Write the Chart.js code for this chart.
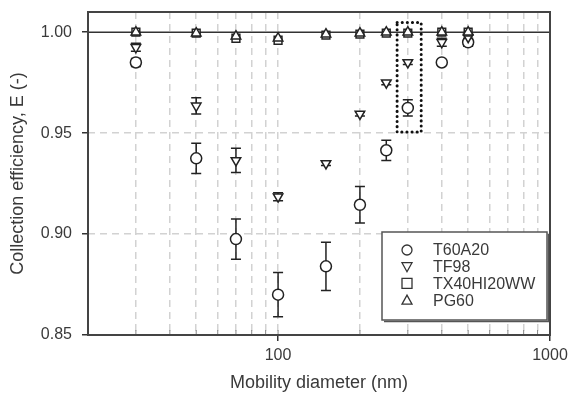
<!DOCTYPE html>
<html>
<head>
<meta charset="utf-8">
<script src="https://cdn.jsdelivr.net/npm/chart.js@4.4.1/dist/chart.umd.min.js"></script>
<style>
  html, body { margin: 0; padding: 0; background: #fff; }
  #wrap { width: 571px; height: 403px; }
</style>
</head>
<body>
<div id="wrap"><canvas id="effChart" width="571" height="403"></canvas></div>
<script>
// mobility diameters (nm)
const diameters = [30, 50, 70, 100, 150, 200, 250, 300, 400, 500];

const t60a20 = [0.985, 0.9375, 0.8975, 0.870, 0.884, 0.9145, 0.9415, 0.9625, 0.985, 0.995];
const t60a20Err = [0.002, 0.0075, 0.010, 0.011, 0.012, 0.009, 0.005, 0.004, 0.001, 0.002];
const tf98 = [0.9925, 0.9635, 0.9365, 0.9185, 0.935, 0.9595, 0.975, 0.985, 0.995, 0.9975];
const tf98Err = [0.002, 0.004, 0.006, 0.002, 0.001, 0.001, 0.001, 0.001, 0.002, 0.001];
const tx40 = [1.000, 0.9995, 0.997, 0.996, 0.9985, 0.999, 0.9995, 0.9995, 1.000, 1.000];
const pg60 = [1.000, 0.9995, 0.998, 0.997, 0.999, 0.9995, 1.000, 1.000, 1.000, 1.000];

const seriesLabels = ['T60A20', 'TF98', 'TX40HI20WW', 'PG60'];
const yTicks = [0.85, 0.90, 0.95, 1.00];
const xTicks = [20, 30, 40, 50, 60, 70, 80, 90, 100, 200, 300, 400, 500, 600, 700, 800, 900, 1000];
const xLabelled = [100, 1000];

// reference line at E = 1 and the dotted box around the 300 nm points
const refLineX = [20, 1000];
const refLineY = [1.0, 1.0];
const boxX = [274, 336, 336, 274, 274];
const boxY = [1.0048, 1.0048, 0.9505, 0.9505, 1.0048];

const ink = '#222';
const textColor = '#3a3a3a';
const fontFamily = '"Liberation Sans", Arial, sans-serif';

function pts(xs, ys) {
    return xs.map((x, i) => ({ x: x, y: ys[i] }));
}

function markerSet(label, values, style, rotation) {
    return {
        label: label,
        data: pts(diameters, values),
        showLine: false,
        pointStyle: style,
        rotation: rotation || 0,
        pointRadius: 5.5,
        pointHoverRadius: 5.5,
        borderColor: ink,
        backgroundColor: '#fff',
        pointBorderWidth: 1.5
    };
}

const errorBars = {
    id: 'errorBars',
    beforeDatasetsDraw(chart) {
        const ctx = chart.ctx;
        const xs = chart.scales.x, ys = chart.scales.y;
        const groups = [[t60a20, t60a20Err], [tf98, tf98Err]];
        ctx.save();
        ctx.strokeStyle = ink;
        ctx.lineWidth = 1.5;
        groups.forEach(([vals, errs]) => {
            vals.forEach((v, i) => {
                const px = xs.getPixelForValue(diameters[i]);
                const top = ys.getPixelForValue(v + errs[i]);
                const bot = ys.getPixelForValue(v - errs[i]);
                ctx.beginPath();
                ctx.moveTo(px, top); ctx.lineTo(px, bot);
                ctx.moveTo(px - 5, top); ctx.lineTo(px + 5, top);
                ctx.moveTo(px - 5, bot); ctx.lineTo(px + 5, bot);
                ctx.stroke();
            });
        });
        ctx.restore();
    }
};

function drawSymbol(ctx, style, x, y) {
    const r = 5;
    ctx.beginPath();
    if (style === 'circle') {
        ctx.arc(x, y, r, 0, Math.PI * 2);
    } else if (style === 'rect') {
        ctx.rect(x - r, y - r, 2 * r, 2 * r);
    } else if (style === 'down') {
        ctx.moveTo(x - r, y - r * 0.8); ctx.lineTo(x + r, y - r * 0.8); ctx.lineTo(x, y + r); ctx.closePath();
    } else {
        ctx.moveTo(x - r, y + r * 0.8); ctx.lineTo(x + r, y + r * 0.8); ctx.lineTo(x, y - r); ctx.closePath();
    }
    ctx.stroke();
}

const frameAndLegend = {
    id: 'frameAndLegend',
    afterDraw(chart) {
        const ctx = chart.ctx;
        const a = chart.chartArea;
        const xs = chart.scales.x;
        ctx.save();
        // minor ticks pointing inwards
        ctx.strokeStyle = '#888';
        ctx.lineWidth = 1;
        xTicks.forEach(t => {
            const px = xs.getPixelForValue(t);
            ctx.beginPath();
            ctx.moveTo(px, a.bottom); ctx.lineTo(px, a.bottom - 5);
            ctx.stroke();
        });
        // frame
        ctx.strokeStyle = '#444';
        ctx.lineWidth = 2;
        ctx.strokeRect(a.left, a.top, a.right - a.left, a.bottom - a.top);

        // legend box
        const bx = 382, by = 232, bw = 165, bh = 88;
        ctx.fillStyle = '#fff';
        ctx.fillRect(bx, by, bw, bh);
        ctx.strokeStyle = '#555';
        ctx.lineWidth = 1.5;
        ctx.strokeRect(bx, by, bw, bh);
        ctx.beginPath();
        ctx.moveTo(bx + bw + 1.5, by + 2); ctx.lineTo(bx + bw + 1.5, by + bh + 1.5); ctx.lineTo(bx + 2, by + bh + 1.5);
        ctx.stroke();

        const styles = ['circle', 'down', 'rect', 'up'];
        ctx.font = '16px ' + fontFamily;
        ctx.textBaseline = 'middle';
        ctx.textAlign = 'left';
        seriesLabels.forEach((lab, i) => {
            const y = 250 + i * 16.7;
            ctx.strokeStyle = '#333';
            ctx.lineWidth = 1.3;
            drawSymbol(ctx, styles[i], 407, y);
            ctx.fillStyle = textColor;
            ctx.fillText(lab, 433, y + 1);
        });
        ctx.restore();
    }
};

const ctx = document.getElementById('effChart').getContext('2d');
new Chart(ctx, {
    type: 'scatter',
    data: {
        datasets: [
            markerSet('PG60', pg60, 'triangle', 0),
            markerSet('TX40HI20WW', tx40, 'rect', 0),
            markerSet('TF98', tf98, 'triangle', 180),
            markerSet('T60A20', t60a20, 'circle', 0),
            {
                label: 'box',
                data: pts(boxX, boxY),
                showLine: true,
                pointRadius: 0,
                borderColor: '#111',
                borderWidth: 3,
                borderDash: [0.1, 5],
                borderCapStyle: 'round',
                fill: false
            },
            {
                label: 'E = 1',
                data: pts(refLineX, refLineY),
                showLine: true,
                pointRadius: 0,
                borderColor: '#333',
                borderWidth: 1.5,
                fill: false
            }
        ]
    },
    options: {
        responsive: false,
        animation: false,
        events: [],
        layout: { padding: { left: 0, right: 21, top: 12, bottom: 0 } },
        plugins: {
            legend: { display: false },
            tooltip: { enabled: false }
        },
        scales: {
            x: {
                type: 'logarithmic',
                min: 20,
                max: 1000,
                afterBuildTicks: axis => { axis.ticks = xTicks.map(v => ({ value: v, major: xLabelled.includes(v) })); },
                afterFit: axis => { axis.height = 68; axis.paddingLeft = 0; axis.paddingRight = 0; },
                ticks: {
                    autoSkip: false,
                    maxRotation: 0,
                    padding: 5,
                    color: textColor,
                    font: { size: 16, family: fontFamily },
                    callback: v => xLabelled.includes(v) ? String(v) : ''
                },
                grid: {
                    color: c => (c.tick && (c.tick.value === 20 || c.tick.value === 1000)) ? 'rgba(0,0,0,0)' : '#d2d2d2',
                    lineWidth: 1.5,
                    tickLength: 6,
                    tickColor: c => (c.tick && xLabelled.includes(c.tick.value)) ? '#333' : 'rgba(0,0,0,0)',
                    tickWidth: 1.5
                },
                border: { display: false, dash: [7, 5] },
                title: {
                    display: true,
                    text: 'Mobility diameter (nm)',
                    color: textColor,
                    font: { size: 18, family: fontFamily },
                    padding: { top: 0, bottom: 9 }
                }
            },
            y: {
                min: 0.85,
                max: 1.01,
                afterBuildTicks: axis => { axis.ticks = yTicks.map(v => ({ value: v })); },
                afterFit: axis => { axis.width = 88; axis.paddingTop = 0; axis.paddingBottom = 0; },
                ticks: {
                    padding: 10,
                    color: textColor,
                    font: { size: 16, family: fontFamily },
                    callback: v => Number(v).toFixed(2)
                },
                grid: {
                    color: c => (c.tick && (c.tick.value === 0.85 || c.tick.value === 1.0)) ? 'rgba(0,0,0,0)' : '#d2d2d2',
                    lineWidth: 1.5,
                    tickLength: 6,
                    tickColor: '#333',
                    tickWidth: 1.5
                },
                border: { display: false, dash: [7, 5] },
                title: {
                    display: true,
                    text: 'Collection efficiency, E (-)',
                    color: textColor,
                    font: { size: 18, family: fontFamily },
                    padding: { top: 7, bottom: 0 }
                }
            }
        }
    },
    plugins: [errorBars, frameAndLegend]
});
</script>
</body>
</html>
